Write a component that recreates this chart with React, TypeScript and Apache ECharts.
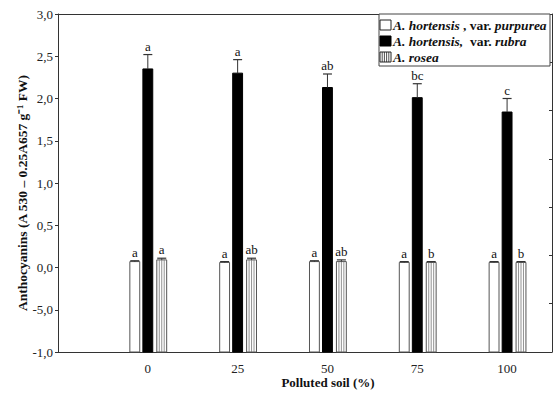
import React, { useEffect, useRef } from "react";
import * as echarts from "echarts";

const categories = ["0", "25", "50", "75", "100"];
const purpurea = [0.07, 0.06, 0.07, 0.06, 0.06];
const purpureaErr = [0.01, 0.01, 0.01, 0.01, 0.01];
const purpureaLetters = ["a", "a", "a", "a", "a"];
const rubra = [2.35, 2.3, 2.13, 2.01, 1.84];
const rubraErr = [0.17, 0.16, 0.16, 0.165, 0.16];
const rubraLetters = ["a", "a", "ab", "bc", "c"];
const rosea = [0.09, 0.09, 0.07, 0.06, 0.06];
const roseaErr = [0.02, 0.02, 0.02, 0.01, 0.01];
const roseaLetters = ["a", "ab", "ab", "b", "b"];
const yTickLabels = ["-1,0", "-5,0", "0,0", "0,5", "1,0", "1,5", "2,0", "2,5", "3,0"];

const FONT = "'Liberation Serif', 'Times New Roman', serif";

type Kind = "white" | "black" | "striped";

function makeSeries(
  name: string,
  values: number[],
  errs: number[],
  letters: string[],
  offset: number,
  kind: Kind
) {
  const barW = 0.11;
  return {
    type: "custom",
    name,
    coordinateSystem: "cartesian2d",
    xAxisIndex: 0,
    yAxisIndex: 0,
    clip: false,
    encode: { x: 0, y: 1 },
    data: values.map((v, i) => [i, v, errs[i]]),
    renderItem: (params: any, api: any) => {
      const x = api.value(0) + offset;
      const v = api.value(1);
      const e = api.value(2);
      const top = api.coord([x, v]);
      const base = api.coord([x, -1]);
      const et = api.coord([x, v + e]);
      const w = api.size([barW, 0])[0];
      const left = top[0] - w / 2;
      const children: any[] = [];
      const stroke = kind === "black" ? "#000" : "#555";
      children.push({
        type: "rect",
        shape: { x: left, y: top[1], width: w, height: base[1] - top[1] },
        style: { fill: kind === "black" ? "#000" : "#fff", stroke, lineWidth: 1 },
      });
      if (kind === "striped") {
        for (let k = 1; k <= 3; k++) {
          const lx = left + (w * k) / 4;
          children.push({
            type: "line",
            shape: { x1: lx, y1: top[1], x2: lx, y2: base[1] },
            style: { stroke: "#777", lineWidth: 0.8 },
          });
        }
      }
      children.push({
        type: "line",
        shape: { x1: top[0], y1: top[1], x2: top[0], y2: et[1] },
        style: { stroke: "#333", lineWidth: 1 },
      });
      children.push({
        type: "line",
        shape: { x1: top[0] - 4.5, y1: et[1], x2: top[0] + 4.5, y2: et[1] },
        style: { stroke: "#333", lineWidth: 1.2 },
      });
      children.push({
        type: "text",
        style: {
          text: letters[params.dataIndex],
          x: top[0],
          y: et[1] - 2,
          align: "center",
          verticalAlign: "bottom",
          fontFamily: FONT,
          fontSize: 13,
          fill: "#111",
        },
      });
      return { type: "group", children };
    },
  };
}

export default function App() {
  const ref = useRef<HTMLDivElement>(null);
  useEffect(() => {
    if (!ref.current) return;
    const chart = echarts.init(ref.current, undefined, { renderer: "svg" });
    const legendX = 379;
    const rowY = [25, 41, 57];
    const LF = 13.5;
    const richStyles = {
      i: { fontFamily: FONT, fontSize: LF, fontWeight: "bold", fontStyle: "italic", fill: "#111" },
      b: { fontFamily: FONT, fontSize: LF, fontWeight: "bold", fill: "#111" },
    };
    const iconX = legendX + 1;
    const iconW = 11;
    const option: any = {
      animation: false,
      backgroundColor: "#fff",
      textStyle: { fontFamily: FONT },
      grid: { left: 58, right: 5, top: 14, bottom: 42, containLabel: false },
      xAxis: [
        {
          type: "value",
          min: -1,
          max: 4.5,
          interval: 1,
          axisLine: { show: true, onZero: false, lineStyle: { color: "#333", width: 1 } },
          axisTick: { show: false },
          splitLine: { show: false },
          axisLabel: {
            formatter: (v: number) => (categories[v] !== undefined ? categories[v] : ""),
            fontFamily: FONT,
            fontSize: 13,
            color: "#222",
            margin: 10,
          },
        },
        {
          type: "value",
          position: "top",
          min: -1,
          max: 4.5,
          axisLine: { show: true, onZero: false, lineStyle: { color: "#333", width: 1 } },
          axisTick: { show: false },
          axisLabel: { show: false },
          splitLine: { show: false },
        },
      ],
      yAxis: [
        {
          type: "value",
          min: -1,
          max: 3,
          interval: 0.5,
          axisLine: { show: true, onZero: false, lineStyle: { color: "#333", width: 1 } },
          axisTick: { show: true, inside: false, length: 3, lineStyle: { color: "#333" } },
          splitLine: { show: false },
          axisLabel: {
            formatter: (v: number) => yTickLabels[Math.round((v + 1) / 0.5)],
            fontFamily: FONT,
            fontSize: 13,
            color: "#222",
            margin: 5,
          },
        },
        {
          type: "value",
          position: "right",
          min: 0,
          max: 7,
          interval: 1,
          axisLine: { show: true, onZero: false, lineStyle: { color: "#333", width: 1 } },
          axisTick: { show: true, inside: true, length: 3, lineStyle: { color: "#333" } },
          axisLabel: { show: false },
          splitLine: { show: false },
        },
      ],
      series: [
        makeSeries("A. hortensis, var. purpurea", purpurea, purpureaErr, purpureaLetters, -0.145, "white"),
        makeSeries("A. hortensis, var. rubra", rubra, rubraErr, rubraLetters, 0, "black"),
        makeSeries("A. rosea", rosea, roseaErr, roseaLetters, 0.155, "striped"),
      ],
      graphic: [
        {
          type: "rect",
          shape: { x: legendX, y: 14, width: 550 - legendX, height: 52 },
          style: { fill: "#fff", stroke: "#444", lineWidth: 1 },
          z: 10,
        },
        {
          type: "rect",
          shape: { x: iconX, y: rowY[0] - 5, width: iconW, height: 10 },
          style: { fill: "#fff", stroke: "#222", lineWidth: 1 },
          z: 11,
        },
        {
          type: "rect",
          shape: { x: iconX, y: rowY[1] - 5, width: iconW, height: 10 },
          style: { fill: "#000", stroke: "#000", lineWidth: 1 },
          z: 11,
        },
        {
          type: "group",
          z: 11,
          children: [
            {
              type: "rect",
              shape: { x: iconX, y: rowY[2] - 5, width: iconW, height: 10 },
              style: { fill: "#fff", stroke: "#222", lineWidth: 1 },
              z: 11,
            },
            ...[1, 2, 3, 4].map((k) => ({
              type: "line",
              shape: {
                x1: iconX + (iconW * k) / 5,
                y1: rowY[2] - 5,
                x2: iconX + (iconW * k) / 5,
                y2: rowY[2] + 5,
              },
              style: { stroke: "#222", lineWidth: 0.8 },
              z: 11,
            })),
          ],
        },
        {
          type: "text",
          z: 11,
          style: {
            x: legendX + 14,
            y: rowY[0],
            verticalAlign: "middle",
            text: "{i|A. hortensis} {b|, var. }{i|purpurea}",
            rich: richStyles,
          },
        },
        {
          type: "text",
          z: 11,
          style: {
            x: legendX + 14,
            y: rowY[1],
            verticalAlign: "middle",
            text: "{i|A. hortensis,}{b|  var. }{i|rubra}",
            rich: richStyles,
          },
        },
        {
          type: "text",
          z: 11,
          style: {
            x: legendX + 14,
            y: rowY[2],
            verticalAlign: "middle",
            text: "A. rosea",
            fontFamily: FONT,
            fontSize: LF,
            fontWeight: "bold",
            fontStyle: "italic",
            fill: "#111",
          },
        },
        {
          type: "text",
          x: 22,
          y: 193,
          rotation: Math.PI / 2,
          style: {
            text: "Anthocyanins (A 530 \u2013 0.25A657 g\u207B\u00B9 FW)",
            fontFamily: FONT,
            fontSize: 13.5,
            fontWeight: "bold",
            fill: "#111",
            align: "center",
            verticalAlign: "middle",
          },
        },
        {
          type: "text",
          x: 328,
          y: 382,
          style: {
            text: "Polluted soil (%)",
            fontFamily: FONT,
            fontSize: 13,
            fontWeight: "bold",
            fill: "#111",
            align: "center",
            verticalAlign: "middle",
          },
        },
      ],
    };
    chart.setOption(option);
    return () => chart.dispose();
  }, []);
  return <div ref={ref} style={{ width: 557, height: 394, position: "absolute", left: 0, top: 0 }} />;
}
